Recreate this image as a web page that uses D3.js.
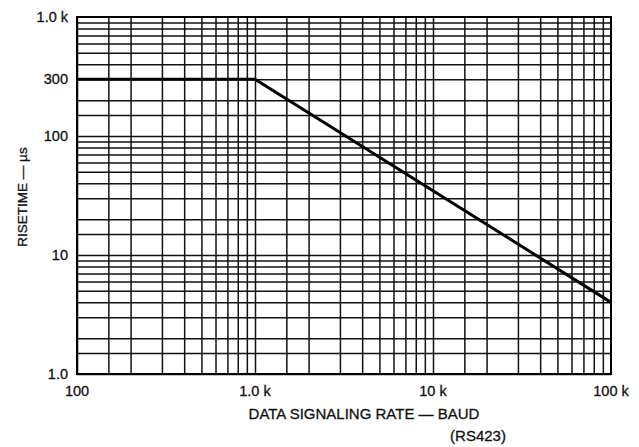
<!DOCTYPE html>
<meta charset='utf-8'>
<head>
    <title>Risetime vs Data Signaling Rate</title>
    <script src='https://cdn.jsdelivr.net/npm/d3@7/dist/d3.min.js'></script>
</head>

<style>
    body { margin: 0; background: white; }
    text {
        font-family: 'Liberation Sans', Arial, sans-serif;
        font-size: 14.5px;
        fill: #111;
        stroke: #111;
        stroke-width: 0.3px;
    }
    .ytitle { font-size: 13.5px; }
    .xtitle { font-size: 15px; }
    .grid line { stroke: #111; stroke-width: 1.5px; }
    .grid path { display: none; }
    .frame { fill: none; stroke: #000; stroke-width: 2px; }
    .curve { fill: none; stroke: #000; stroke-width: 3px; }
</style>

<svg></svg>

<script>
    var vWidth = 639;
    var vHeight = 447;
    var vMargin = {top: 17, right: 28, bottom: 73, left: 77};

    // chart data
    var rateBaud = [100, 1000, 100000];
    var risetimeUs = [300, 300, 4];

    // tick labels
    var xTickValues = [100, 1000, 10000, 100000];
    var xTickLabels = ['100', '1.0 k', '10 k', '100 k'];
    var yTickValues = [1, 10, 100, 300, 1000];
    var yTickLabels = ['1.0', '10', '100', '300', '1.0 k'];
    var gridSteps = [1, 1.5, 2, 3, 4, 5, 6, 7, 8, 9];
    var xDecades = [100, 1000, 10000];
    var yDecades = [1, 10, 100];

    var w = vWidth - vMargin.left - vMargin.right;
    var h = vHeight - vMargin.top - vMargin.bottom;

    var svg = d3.select('svg').attr('width', vWidth).attr('height', vHeight);
    var g = svg.append('g').attr('transform', 'translate(' + vMargin.left + ',' + vMargin.top + ')');

    var x = d3.scaleLog().domain([100, 100000]).range([0, w]);
    var y = d3.scaleLog().domain([1, 1000]).range([h, 0]);

    // grid values for each decade
    function gridValues(decades) {
        var out = [];
        decades.forEach(function (d) {
            gridSteps.forEach(function (s) { out.push(d * s); });
        });
        return out;
    }

    g.append('g').attr('class', 'grid')
        .attr('transform', 'translate(0,' + h + ')')
        .call(d3.axisBottom(x).tickValues(gridValues(xDecades)).tickSize(-h).tickFormat(''));

    g.append('g').attr('class', 'grid')
        .call(d3.axisLeft(y).tickValues(gridValues(yDecades)).tickSize(-w).tickFormat(''));

    g.append('rect').attr('class', 'frame').attr('width', w).attr('height', h);

    // tick labels
    g.selectAll('.xlab').data(xTickValues).enter().append('text')
        .attr('class', 'xlab')
        .attr('x', function (d) { return x(d); })
        .attr('y', h + 22)
        .attr('text-anchor', 'middle')
        .text(function (d, i) { return xTickLabels[i]; });

    g.selectAll('.ylab').data(yTickValues).enter().append('text')
        .attr('class', 'ylab')
        .attr('x', -9)
        .attr('y', function (d) { return y(d); })
        .attr('dy', '0.36em')
        .attr('text-anchor', 'end')
        .text(function (d, i) { return yTickLabels[i]; });

    // axis titles
    g.append('text').attr('class', 'xtitle')
        .attr('x', 287).attr('y', h + 45)
        .attr('text-anchor', 'middle')
        .text('DATA SIGNALING RATE \u2014 BAUD');

    g.append('text').attr('class', 'xtitle')
        .attr('x', 401).attr('y', h + 67)
        .attr('text-anchor', 'middle')
        .text('(RS423)');

    g.append('text').attr('class', 'ytitle')
        .attr('transform', 'translate(-50,' + (197 - vMargin.top) + ') rotate(-90)')
        .attr('text-anchor', 'middle')
        .text('RISETIME \u2014 \u00b5s');

    // risetime curve
    var line = d3.line()
        .x(function (d) { return x(d[0]); })
        .y(function (d) { return y(d[1]); });

    g.append('path').attr('class', 'curve')
        .attr('d', line(d3.zip(rateBaud, risetimeUs)));
</script>
